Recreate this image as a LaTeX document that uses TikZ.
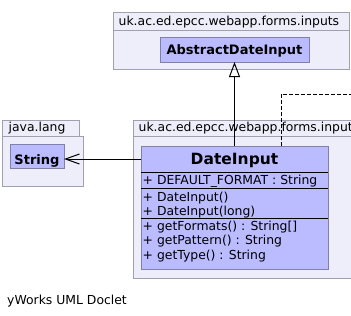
\documentclass[tikz,border=0pt]{standalone}
\usepackage{fontspec}
\setmainfont{DejaVu Sans}
\usetikzlibrary{arrows.meta}
\definecolor{pkgfill}{RGB}{238,238,250}
\definecolor{pkgline}{RGB}{160,160,176}
\definecolor{clsfill}{RGB}{187,187,255}
\definecolor{clsline}{RGB}{128,128,168}
\begin{document}
\begin{tikzpicture}[x=1pt,y=-1pt,
  box/.style={anchor=north west,inner sep=0pt,outer sep=0pt},
  pkgpart/.style={box,draw=pkgline,fill=pkgfill,line width=1pt},
  clspart/.style={box,draw=clsline,fill=clsfill,line width=1pt},
  lbl/.style={anchor=base west,inner sep=0pt,font=\fontsize{12.4}{14}\selectfont},
  clsname/.style={anchor=base,inner sep=0pt,font=\fontsize{13}{15}\selectfont\bfseries},
  sep/.style={line width=1pt,black},
  inherit/.style={-{Triangle[open,length=15pt,width=11pt]},line width=1pt},
  assoc/.style={-{Straight Barb[length=14pt,width=10pt]},line width=1pt},
  depend/.style={line width=1pt,dash pattern=on 4pt off 2pt}]
\useasboundingbox (0,0) rectangle (351,316);
\clip (0,0) rectangle (351,316);

% package uk.ac.ed.epcc.webapp.forms.inputs (upper)
\node[pkgpart,minimum width=236,minimum height=39] (pkgAbody) at (113,30) {};
\node[pkgpart,minimum width=236,minimum height=18] (pkgAtab) at (113,12) {};
\node[lbl] (pkgAlabel) at (118.5,25) {uk.ac.ed.epcc.webapp.forms.inputs};
\node[clspart,minimum width=149,minimum height=25] (abs) at (160,37) {};
\node[clsname] (absname) at (234.5,54) {AbstractDateInput};

% package java.lang
\node[pkgpart,minimum width=81,minimum height=50] (pkgBbody) at (2,136) {};
\node[pkgpart,minimum width=77,minimum height=16] (pkgBtab) at (2,120) {};
\node[lbl] (pkgBlabel) at (8.5,131) {java.lang};
\node[clspart,minimum width=54,minimum height=24] (str) at (10,144) {};
\node[clsname] (strname) at (37,164) {String};

% package uk.ac.ed.epcc.webapp.forms.inputs (lower)
\node[pkgpart,minimum width=270,minimum height=142] (pkgCbody) at (133,136) {};
\node[pkgpart,minimum width=270,minimum height=16] (pkgCtab) at (133,120) {};
\node[lbl] (pkgClabel) at (138.5,131) {uk.ac.ed.epcc.webapp.forms.inputs};

% class DateInput
\node[clspart,minimum width=187,minimum height=123] (di) at (141,146) {};
\node[box,minimum width=187,minimum height=26] (dititle) at (141,146) {};
\node[clsname,font=\fontsize{15.5}{18}\selectfont\bfseries] (diname) at (234.5,164) {DateInput};
\draw[sep] (141,172) -- (328,172);
\draw[sep] (141,188) -- (328,188);
\draw[sep] (141,218) -- (328,218);
\node[lbl] (m1) at (142.5,184) {+ \underline{DEFAULT\_FORMAT : String}};
\node[lbl] (m2) at (142.5,201) {+ DateInput()};
\node[lbl] (m3) at (142.5,215.5) {+ DateInput(long)};
\node[lbl] (m4) at (142.5,230) {+ getFormats() : String[]};
\node[lbl] (m5) at (142.5,244.5) {+ getPattern() : String};
\node[lbl] (m6) at (142.5,259) {+ getType() : String};

% connectors
\coordinate (offright) at (360,94);
\draw[inherit] (dititle.north -| abs.south) -- (abs.south);
\draw[assoc] (dititle.west) -- (str.east |- dititle.west);
\draw[depend] ([xshift=140pt]dititle.north west) |- (offright);

% footer
\node[lbl] (footer) at (7,304) {yWorks UML Doclet};
\end{tikzpicture}
\end{document}
